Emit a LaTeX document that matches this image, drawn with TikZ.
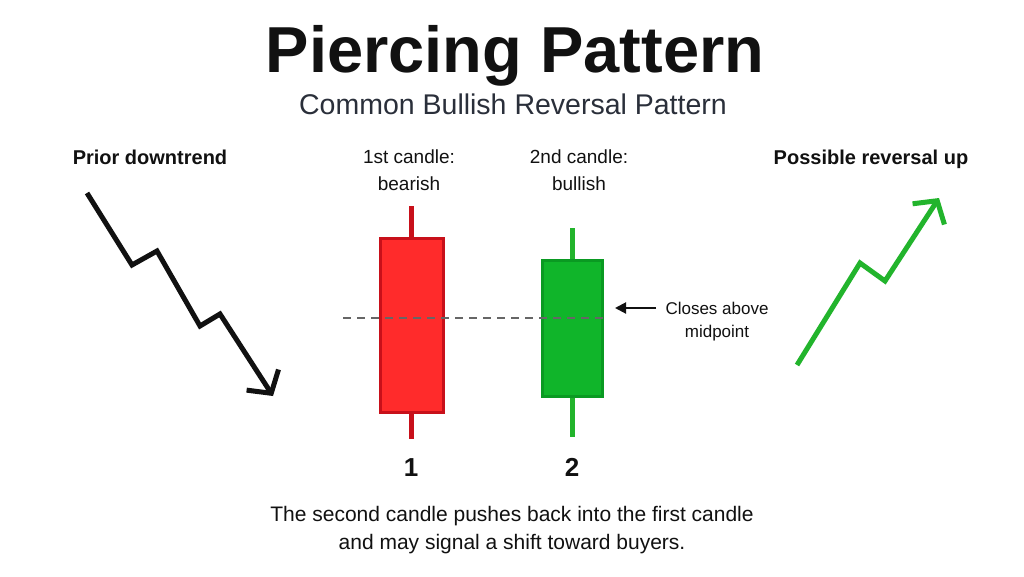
\documentclass[tikz,border=0pt]{standalone}
\usepackage{fontspec}
\setmainfont{Liberation Sans}
\usetikzlibrary{arrows.meta}
\definecolor{ink}{HTML}{111111}
\definecolor{subink}{HTML}{2A2F3A}
\definecolor{redfill}{HTML}{FF2B2B}
\definecolor{redline}{HTML}{C8101A}
\definecolor{greenfill}{HTML}{10B52A}
\definecolor{greenline}{HTML}{0A9A22}
\definecolor{greenarrow}{HTML}{22B42C}
\tikzset{
  txt/.style={anchor=base, inner sep=0pt, text=ink},
  lbl/.style={txt, font=\fontsize{19}{24}\selectfont, align=center},
  bodyred/.style={draw=redline, fill=redfill, line width=3pt, minimum width=63pt, minimum height=174pt, inner sep=0pt},
  bodygreen/.style={draw=greenline, fill=greenfill, line width=3pt, minimum width=60pt, minimum height=136pt, inner sep=0pt},
  trend/.style={line width=5pt, line join=miter, -{Straight Barb[length=16pt,width=38pt,line width=5pt]}},
}
\begin{document}
\begin{tikzpicture}[x=1pt,y=-1pt]
\useasboundingbox[fill=white] (0,0) rectangle (1024,576);
% titles
\node[txt, font=\fontsize{65}{72}\selectfont\bfseries] (title) at (515,72) {Piercing Pattern};
\node[txt, text=subink, font=\fontsize{28.5}{32}\selectfont] (subtitle) at (513,114) {Common Bullish Reversal Pattern};
% side headings
\node[txt, font=\fontsize{20}{24}\selectfont\bfseries] (prior) at (150,164) {Prior downtrend};
\node[txt, font=\fontsize{20}{24}\selectfont\bfseries] (possible) at (871,164) {Possible reversal up};
% downtrend arrow
\coordinate (d0) at (87,193);
\coordinate (d1) at (132,265);
\coordinate (d2) at (157,251);
\coordinate (d3) at (200,326);
\coordinate (d4) at (220,314);
\coordinate (d5) at (273,396);
\draw[trend, draw=ink] (d0) -- (d1) -- (d2) -- (d3) -- (d4) -- (d5);
% uptrend arrow
\coordinate (u0) at (797,365);
\coordinate (u1) at (860,263);
\coordinate (u2) at (885,281);
\coordinate (u3) at (939,198);
\draw[trend, draw=greenarrow] (u0) -- (u1) -- (u2) -- (u3);
% candle labels
\node[lbl] (c1a) at (409,163) {1st candle:};
\node[lbl] (c1b) at (409,190) {bearish};
\node[lbl] (c2a) at (579,163) {2nd candle:};
\node[lbl] (c2b) at (579,190) {bullish};
% candle 1
\coordinate (w1t) at (411.5,206);
\coordinate (w1b) at (411.5,439);
\draw[redline, line width=5pt] (w1t) -- (w1b);
\node[bodyred] (body1) at (411.5,325.5) {};
% candle 2
\coordinate (w2t) at (572.5,228);
\coordinate (w2b) at (572.5,437);
\draw[greenarrow, line width=5pt] (w2t) -- (w2b);
\node[bodygreen] (body2) at (572.5,328.5) {};
% midpoint dashed line
\coordinate (m0) at (343,318);
\coordinate (m1) at (603,318);
\draw[black!60, line width=1.4pt, dash pattern=on 8pt off 6pt] (m0) -- (m1);
% numbers
\node[txt, font=\fontsize{26}{30}\selectfont\bfseries] (n1) at (411,476) {1};
\node[txt, font=\fontsize{26}{30}\selectfont\bfseries] (n2) at (572,476) {2};
% annotation
\node[lbl, font=\fontsize{17}{22}\selectfont] (closes) at (717,314) {Closes above};
\node[lbl, font=\fontsize{17}{22}\selectfont] (midpt) at (717,337) {midpoint};
\coordinate (a0) at (656,308);
\coordinate (a1) at (615,308);
\draw[ink, line width=2pt, -{Triangle[length=11pt,width=11pt]}] (a0) -- (a1);
% bottom text
\node[txt, font=\fontsize{21}{28}\selectfont] (b1) at (512,521) {The second candle pushes back into the first candle};
\node[txt, font=\fontsize{21}{28}\selectfont] (b2) at (512,549) {and may signal a shift toward buyers.};
\end{tikzpicture}
\end{document}
